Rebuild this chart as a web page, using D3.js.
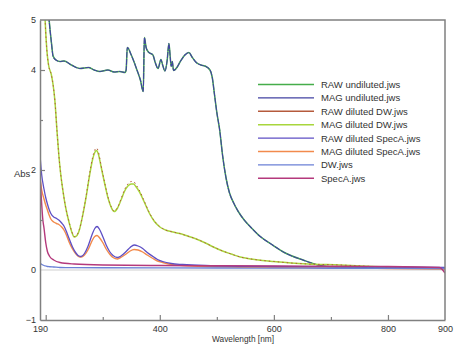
<!DOCTYPE html>
<html>
<head>
<meta charset="utf-8">
<script src="https://cdn.jsdelivr.net/npm/d3@7"></script>
<style>
  html, body { margin: 0; padding: 0; background: #fff; }
  svg { display: block; font-family: "Liberation Sans", Arial, sans-serif; }
</style>
</head>
<body>
<svg id="chart" width="468" height="355"></svg>
<script>
// ---- Data ----
const seriesNames = ["RAW undiluted.jws", "MAG undiluted.jws", "RAW diluted DW.jws", "MAG diluted DW.jws",
  "RAW diluted SpecA.jws", "MAG diluted SpecA.jws", "DW.jws", "SpecA.jws"];
const seriesColors = ["#45ad4a", "#4242a2", "#b55a3c", "#a8d63c", "#5e4fc4", "#f28a4c", "#6b80d6", "#b4397c"];

const wlUndiluted = [190, 200, 206, 210, 213, 218, 225, 232, 245, 260, 275, 285, 295, 309, 320, 330, 339, 341, 343, 350,
  360, 366, 371, 373, 376, 380, 388, 392, 397, 402, 405, 409, 413, 416, 418, 420, 422, 424, 430, 436, 444, 451, 457,
  464, 472, 479, 488, 492, 496, 500, 505, 510, 516, 522, 530, 537, 548, 560, 575, 595, 620, 651, 686, 720, 800, 900];
const rawUndiluted = [9, 6.0, 5.0, 4.55, 4.28, 4.2, 4.17, 4.18, 4.1, 4.03, 4.05, 4.0, 3.97, 4.0, 3.96, 3.97, 3.95, 4.0, 4.45, 4.3,
  4.0, 3.8, 3.57, 4.65, 4.45, 4.36, 4.3, 4.15, 4.03, 4.21, 4.1, 3.98, 4.2, 4.53, 4.3, 4.07, 4.17, 3.99, 4.05, 4.17, 4.3, 4.35, 4.25,
  4.15, 4.1, 4.08, 4.0, 3.85, 3.5, 3.15, 2.8, 2.3, 1.85, 1.55, 1.33, 1.18, 1.0, 0.85, 0.68, 0.52, 0.34, 0.2, 0.08, 0.05, 0.04, 0.03];
const magUndiluted = [9, 6.0, 5.0, 4.55, 4.27, 4.2, 4.17, 4.18, 4.1, 4.03, 4.05, 4.0, 3.97, 4.0, 3.96, 3.97, 3.95, 4.0, 4.45, 4.3,
  4.0, 3.8, 3.57, 4.65, 4.45, 4.36, 4.3, 4.15, 4.03, 4.21, 4.1, 3.98, 4.2, 4.53, 4.3, 4.07, 4.17, 3.99, 4.05, 4.17, 4.3, 4.35, 4.25,
  4.15, 4.1, 4.08, 4.0, 3.85, 3.5, 3.15, 2.8, 2.3, 1.85, 1.55, 1.33, 1.18, 1.0, 0.85, 0.68, 0.52, 0.34, 0.2, 0.08, 0.05, 0.04, 0.03];

const wlDW = [190, 195, 199, 202, 205, 210, 213, 216, 220, 223, 226, 230, 235, 241, 246, 250, 254, 259, 265, 271, 277, 282,
  286, 289, 292, 297, 303, 309, 315, 320, 326, 332, 338, 344, 350, 354, 358, 364, 372, 382, 390, 399, 410, 423, 435, 446,
  464, 480, 494, 510, 525, 541, 560, 580, 600, 630, 660, 716, 774, 840, 900];
const rawDilutedDW = [8, 6.5, 5.0, 4.4, 4.1, 3.9, 3.7, 3.4, 2.75, 2.3, 1.95, 1.6, 1.25, 0.96, 0.76, 0.67, 0.69, 0.81, 1.11, 1.49, 1.93, 2.24,
  2.4, 2.44, 2.38, 2.1, 1.77, 1.47, 1.26, 1.18, 1.25, 1.42, 1.6, 1.72, 1.77, 1.77, 1.71, 1.6, 1.4, 1.14, 0.99, 0.88, 0.8, 0.76, 0.73, 0.69,
  0.62, 0.54, 0.46, 0.38, 0.32, 0.26, 0.22, 0.19, 0.17, 0.14, 0.12, 0.1, 0.07, 0.05, 0.04];
const magDilutedDW = [8, 6.5, 5.0, 4.4, 4.1, 3.9, 3.7, 3.4, 2.75, 2.3, 1.95, 1.6, 1.25, 0.95, 0.75, 0.66, 0.68, 0.8, 1.1, 1.47, 1.9, 2.2,
  2.35, 2.39, 2.33, 2.07, 1.75, 1.45, 1.25, 1.17, 1.24, 1.4, 1.57, 1.68, 1.72, 1.72, 1.67, 1.57, 1.38, 1.13, 0.98, 0.87, 0.8, 0.76, 0.73, 0.69,
  0.62, 0.54, 0.46, 0.38, 0.32, 0.26, 0.22, 0.19, 0.17, 0.14, 0.12, 0.1, 0.07, 0.05, 0.04];

const wlSpecA = [190, 193, 197, 200, 203, 206, 209, 214, 219, 223, 228, 232, 237, 241, 247, 253, 258, 262, 268, 274, 278, 282,
  286, 290, 294, 300, 306, 312, 318, 326, 333, 341, 348, 355, 362, 370, 378, 388, 396, 405, 420, 440, 480, 600, 800, 900];
const rawDilutedSpecA = [2.3, 1.9, 1.62, 1.45, 1.32, 1.21, 1.13, 1.06, 1.03, 1.0, 0.94, 0.88, 0.75, 0.63, 0.46, 0.34, 0.28, 0.27, 0.33, 0.47, 0.6, 0.73,
  0.83, 0.87, 0.82, 0.67, 0.5, 0.37, 0.29, 0.25, 0.29, 0.37, 0.45, 0.5, 0.48, 0.43, 0.35, 0.27, 0.21, 0.17, 0.13, 0.11, 0.09, 0.07, 0.06, 0.05];
const magDilutedSpecA = [1.85, 1.6, 1.42, 1.3, 1.2, 1.1, 1.02, 0.96, 0.93, 0.91, 0.86, 0.8, 0.68, 0.56, 0.42, 0.32, 0.27, 0.26, 0.3, 0.4, 0.5, 0.6,
  0.67, 0.69, 0.65, 0.55, 0.42, 0.32, 0.25, 0.22, 0.26, 0.32, 0.38, 0.41, 0.4, 0.36, 0.3, 0.23, 0.18, 0.15, 0.11, 0.09, 0.07, 0.05, 0.03, 0.02];

const wlBlank = [190, 192, 195, 197, 200, 203, 207, 214, 225, 250, 300, 400, 500, 600, 700, 800, 890, 900];
const dwBlank = [0.14, 0.12, 0.1, 0.09, 0.08, 0.07, 0.065, 0.06, 0.05, 0.048, 0.045, 0.042, 0.04, 0.038, 0.035, 0.033, 0.03, 0.03];
const specABlank = [1.9, 1.5, 1.0, 0.84, 0.55, 0.37, 0.27, 0.2, 0.15, 0.12, 0.1, 0.09, 0.085, 0.08, 0.075, 0.07, 0.05, -0.06];

const xTickLabels = [190, 400, 600, 800, 900];
const xMajorTicks = [200, 400, 600, 800];
const xMinorTicks = [300, 500, 700];
const yTickLabels = [5, 4, 2, 0, -1];
const yMajorTicks = [4, 2];
const yMinorTicks = [3, 1];

// ---- Chart ----
const svg = d3.select("#chart");
const pLeft = 40, pRight = 445, pTop = 20, pBottom = 320;
const x = d3.scaleLinear().domain([190, 900]).range([pLeft, pRight]);
const y = d3.scaleLinear().domain([-1, 5]).range([pBottom, pTop]);
const axisColor = "#808080";

svg.append("defs").append("clipPath").attr("id", "plotclip")
  .append("rect").attr("x", pLeft).attr("y", pTop).attr("width", pRight - pLeft).attr("height", pBottom - pTop);

// zero line
svg.append("line").attr("x1", pLeft).attr("x2", pRight).attr("y1", y(0)).attr("y2", y(0))
  .attr("stroke", "#cfcfcf").attr("stroke-width", 1.2);

const series = [
  { wl: wlUndiluted, v: rawUndiluted, c: 0, w: 1.5 },
  { wl: wlUndiluted, v: magUndiluted, c: 1, w: 1.1, dash: "6,1" },
  { wl: wlDW, v: magDilutedDW, c: 3, w: 1.5 },
  { wl: wlDW, v: rawDilutedDW, c: 2, w: 1.0, dash: "1.5,3" },
  { wl: wlSpecA, v: magDilutedSpecA, c: 5, w: 1.4 },
  { wl: wlSpecA, v: rawDilutedSpecA, c: 4, w: 1.3 },
  { wl: wlBlank, v: dwBlank, c: 6, w: 1.3 },
  { wl: wlBlank, v: specABlank, c: 7, w: 1.4 }
];

const line = d3.line().x(d => x(d[0])).y(d => y(d[1])).curve(d3.curveMonotoneX);
const g = svg.append("g").attr("clip-path", "url(#plotclip)");
series.forEach(s => {
  const pts = s.wl.map((w, i) => [w, s.v[i]]);
  g.append("path").attr("d", line(pts)).attr("fill", "none")
    .attr("stroke", seriesColors[s.c]).attr("stroke-width", s.w)
    .attr("stroke-dasharray", s.dash || null)
    .attr("stroke-linejoin", "round");
});

// frame
svg.append("path")
  .attr("d", `M${pLeft},${pTop}H${pRight}V${pBottom}`)
  .attr("fill", "none").attr("stroke", axisColor).attr("stroke-width", 1.5);

function styleAxis(sel) {
  sel.select(".domain").attr("stroke", axisColor).attr("stroke-width", 1.5);
  sel.selectAll(".tick line").attr("stroke", axisColor).attr("stroke-width", 1.2);
  sel.selectAll(".tick text").attr("fill", "#333").style("font-size", "9px")
    .style("font-family", "'Liberation Sans', Arial, sans-serif");
}
// x axis
const gx = svg.append("g").attr("transform", `translate(0,${pBottom})`)
  .call(d3.axisBottom(x).tickValues(xTickLabels).tickSize(0).tickPadding(6).tickFormat(d3.format("d")));
styleAxis(gx);
svg.append("g").attr("transform", `translate(0,${pBottom})`)
  .call(d3.axisBottom(x).tickValues(xMajorTicks).tickSize(-5).tickFormat(""))
  .call(sel => { sel.select(".domain").remove(); styleAxis(sel); });
svg.append("g").attr("transform", `translate(0,${pBottom})`)
  .call(d3.axisBottom(x).tickValues(xMinorTicks).tickSize(-3).tickFormat(""))
  .call(sel => { sel.select(".domain").remove(); styleAxis(sel); });

// y axis
const gy = svg.append("g").attr("transform", `translate(${pLeft},0)`)
  .call(d3.axisLeft(y).tickValues(yTickLabels).tickSize(0).tickPadding(4).tickFormat(d3.format("d")));
styleAxis(gy);
svg.append("g").attr("transform", `translate(${pLeft},0)`)
  .call(d3.axisLeft(y).tickValues(yMajorTicks).tickSize(-5).tickFormat(""))
  .call(sel => { sel.select(".domain").remove(); styleAxis(sel); });
svg.append("g").attr("transform", `translate(${pLeft},0)`)
  .call(d3.axisLeft(y).tickValues(yMinorTicks).tickSize(-3).tickFormat(""))
  .call(sel => { sel.select(".domain").remove(); styleAxis(sel); });

// axis titles
svg.append("text").attr("x", 14).attr("y", 177).text("Abs")
  .attr("fill", "#333").style("font-size", "9.5px");
svg.append("text").attr("x", 243).attr("y", 342).attr("text-anchor", "middle").text("Wavelength [nm]")
  .attr("fill", "#333").style("font-size", "8.3px");

// legend
const lg = svg.append("g");
const legendY0 = 84.5, legendStep = 13.4;
seriesNames.forEach((name, i) => {
  const yy = legendY0 + i * legendStep;
  lg.append("line").attr("x1", 258).attr("x2", 314).attr("y1", yy).attr("y2", yy)
    .attr("stroke", seriesColors[i]).attr("stroke-width", 1.4);
  lg.append("text").attr("x", 321).attr("y", yy + 3.4).text(name)
    .attr("fill", "#333").style("font-size", "9.5px");
});
</script>
</body>
</html>
